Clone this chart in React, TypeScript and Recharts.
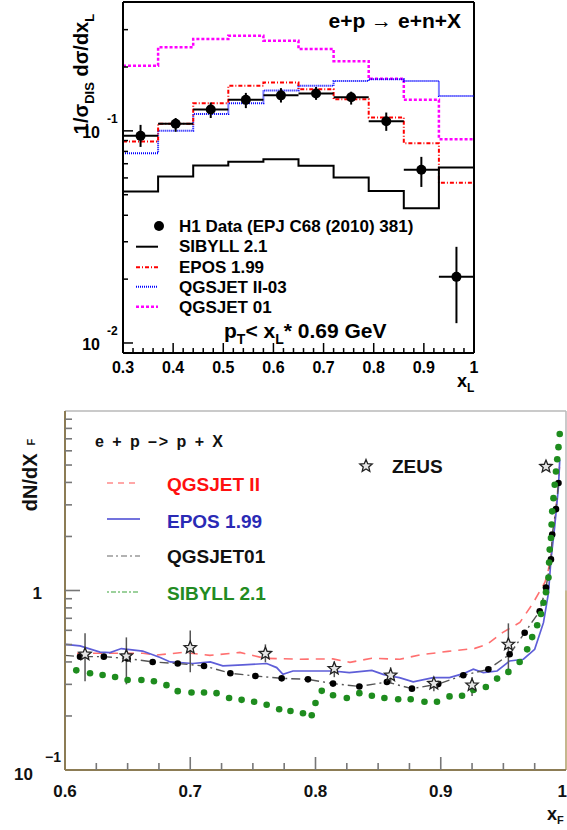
import React from 'react';
import {
  ComposedChart,
  Line,
  Scatter,
  XAxis,
  YAxis,
  ErrorBar,
  ReferenceLine,
  Customized,
} from 'recharts';

const FONT = '"Liberation Sans", Arial, Helvetica, sans-serif';

// ---------------- TOP PANEL DATA (e+p -> e+n+X) ----------------
const xlEdges = [0.3, 0.37, 0.44, 0.51, 0.58, 0.65, 0.72, 0.79, 0.86, 0.93, 1.0];
const sibyll21 = [0.0518, 0.0609, 0.0686, 0.0716, 0.0734, 0.0684, 0.0602, 0.0521, 0.0432, 0.0672];
const epos199 = [0.0891, 0.108, 0.135, 0.163, 0.169, 0.157, 0.141, 0.1156, 0.0875, 0.057];
const qgsjetII03 = [0.0785, 0.1, 0.12, 0.135, 0.155, 0.163, 0.172, 0.175, 0.172, 0.146];
const qgsjet01Top = [0.203, 0.248, 0.271, 0.281, 0.266, 0.243, 0.213, 0.176, 0.14, 0.0914];

const h1X = [0.335, 0.405, 0.475, 0.545, 0.615, 0.685, 0.755, 0.825, 0.895, 0.965];
const h1Val = [0.0947, 0.108, 0.126, 0.14, 0.147, 0.15, 0.144, 0.111, 0.0655, 0.0205];
const h1Lo = [0.084, 0.099, 0.115, 0.128, 0.136, 0.14, 0.133, 0.1, 0.0544, 0.0124];
const h1Hi = [0.1067, 0.115, 0.136, 0.151, 0.159, 0.161, 0.153, 0.122, 0.0754, 0.0284];
const h1HalfBin = 0.035;

const topXMajor = [0.3, 0.4, 0.5, 0.6, 0.7, 0.8, 0.9, 1.0];
const topXLabels = ['0.3', '0.4', '0.5', '0.6', '0.7', '0.8', '0.9', '1'];
const topYMajor = [0.01, 0.1];
const topYExp = ['-2', '-1'];
const topYTicks = [0.01, 0.02, 0.03, 0.04, 0.05, 0.06, 0.07, 0.08, 0.09, 0.1, 0.2, 0.3];
const topXDomain = [0.3, 1.0];
const topYDomain = [0.00897, 0.405];

// ---------------- BOTTOM PANEL DATA (e+p -> p+X) ----------------
const qgsIIX = [0.6096, 0.6623, 0.6734, 0.6942, 0.7157, 0.7397, 0.7596, 0.7876, 0.8139, 0.8275, 0.845, 0.8674, 0.8833, 0.9057, 0.9272, 0.9368, 0.9496, 0.9632, 0.9735, 0.9831, 0.9855, 0.9884, 0.9912, 0.9936, 0.9948];
const qgsIIY = [0.447, 0.447, 0.437, 0.452, 0.435, 0.452, 0.419, 0.414, 0.416, 0.398, 0.419, 0.414, 0.438, 0.458, 0.476, 0.501, 0.584, 0.664, 0.847, 1.108, 1.259, 1.626, 2.48, 3.783, 4.886];

const eposX = [0.6, 0.612, 0.628, 0.636, 0.645, 0.662, 0.676, 0.684, 0.702, 0.716, 0.726, 0.742, 0.761, 0.769, 0.774, 0.782, 0.796, 0.814, 0.827, 0.845, 0.854, 0.859, 0.867, 0.878, 0.894, 0.907, 0.918, 0.926, 0.934, 0.945, 0.955, 0.966, 0.975, 0.982, 0.986, 0.988, 0.991, 0.994, 0.995];
const eposY = [0.501, 0.491, 0.454, 0.451, 0.475, 0.46, 0.423, 0.4, 0.392, 0.4, 0.38, 0.385, 0.392, 0.372, 0.341, 0.356, 0.356, 0.356, 0.349, 0.359, 0.341, 0.334, 0.327, 0.31, 0.327, 0.327, 0.344, 0.364, 0.349, 0.356, 0.405, 0.414, 0.47, 0.662, 0.971, 1.486, 2.28, 3.8, 5.34];

const q01X = [0.6, 0.612, 0.631, 0.65, 0.67, 0.69, 0.711, 0.732, 0.752, 0.773, 0.794, 0.814, 0.835, 0.857, 0.877, 0.898, 0.918, 0.938, 0.955, 0.967, 0.979, 0.984, 0.988, 0.989, 0.992, 0.994];
const q01Y = [0.435, 0.428, 0.428, 0.418, 0.4, 0.392, 0.38, 0.346, 0.334, 0.324, 0.32, 0.303, 0.292, 0.309, 0.284, 0.301, 0.337, 0.364, 0.441, 0.582, 0.767, 1.04, 1.49, 2.05, 2.84, 3.97];

const sibX = [0.609, 0.62, 0.63, 0.64, 0.65, 0.661, 0.671, 0.681, 0.69, 0.701, 0.711, 0.721, 0.731, 0.741, 0.751, 0.761, 0.771, 0.78, 0.79, 0.797, 0.8, 0.805, 0.814, 0.825, 0.835, 0.845, 0.855, 0.866, 0.876, 0.887, 0.897, 0.907, 0.917, 0.926, 0.936, 0.945, 0.954, 0.963, 0.969, 0.973, 0.977, 0.98, 0.982, 0.984, 0.986, 0.9865, 0.987, 0.988, 0.9885, 0.989, 0.99, 0.991, 0.992, 0.993, 0.994, 0.995];
const sibY = [0.359, 0.346, 0.338, 0.33, 0.317, 0.317, 0.312, 0.297, 0.275, 0.27, 0.27, 0.268, 0.252, 0.246, 0.24, 0.231, 0.218, 0.213, 0.207, 0.202, 0.236, 0.276, 0.261, 0.252, 0.268, 0.259, 0.252, 0.248, 0.248, 0.24, 0.24, 0.257, 0.259, 0.279, 0.29, 0.323, 0.352, 0.4, 0.47, 0.55, 0.64, 0.74, 0.855, 0.978, 1.18, 1.43, 1.69, 1.96, 2.33, 2.76, 3.27, 3.88, 4.6, 5.39, 6.29, 7.45];

const zeusX = [0.616, 0.649, 0.7, 0.76, 0.815, 0.86, 0.8945, 0.925, 0.954, 0.984];
const zeusVal = [0.441, 0.431, 0.48, 0.445, 0.367, 0.337, 0.303, 0.297, 0.501, 4.9];
const zeusLo = [0.312, 0.3, 0.35, 0.398, 0.329, 0.304, 0.275, 0.258, 0.355, 4.9];
const zeusHi = [0.577, 0.548, 0.599, 0.501, 0.403, 0.373, 0.329, 0.329, 0.656, 4.9];

const botXMajor = [0.6, 0.7, 0.8, 0.9, 1.0];
const botXLabels = ['0.6', '0.7', '0.8', '0.9', '1'];
const botYTicks = [0.2, 0.3, 0.4, 0.5, 0.6, 0.7, 0.8, 0.9, 1, 2, 3, 4, 5, 6, 7, 8, 9];
const botXDomain = [0.6, 1.0];
const botYDomain = [0.1, 10];

// ---------------- helpers ----------------
const hist = (vals: number[]) => xlEdges.map((x, i) => ({ x, y: vals[Math.min(i, vals.length - 1)] }));
const pts = (xs: number[], ys: number[]) => xs.map((x, i) => ({ x, y: ys[i] }));

const topXTicks: number[] = [];
for (let i = 0; i <= 35; i++) topXTicks.push(Math.round((0.3 + i * 0.02) * 1000) / 1000);
const botXTicks: number[] = [];
for (let i = 0; i <= 16; i++) botXTicks.push(Math.round((0.6 + i * 0.025) * 10000) / 10000);

const h1Data = h1X.map((x, i) => ({
  x,
  y: h1Val[i],
  ex: [h1HalfBin, h1HalfBin],
  ey: [h1Val[i] - h1Lo[i], h1Hi[i] - h1Val[i]],
}));
const zeusData = zeusX.map((x, i) => ({
  x,
  y: zeusVal[i],
  ey: [zeusVal[i] - zeusLo[i], zeusHi[i] - zeusVal[i]],
}));

const starPath = (cx: number, cy: number, R: number, r: number) => {
  let d = '';
  for (let k = 0; k < 10; k++) {
    const rad = k % 2 === 0 ? R : r;
    const a = -Math.PI / 2 + (k * Math.PI) / 5;
    d += (k === 0 ? 'M' : 'L') + (cx + rad * Math.cos(a)).toFixed(2) + ',' + (cy + rad * Math.sin(a)).toFixed(2);
  }
  return d + 'Z';
};

const near = (a: number, b: number) => Math.abs(a - b) < 1e-6 * Math.max(1, Math.abs(b));

// ---------------- ticks ----------------
const TopXTick = (props: any) => {
  const { x, y, payload } = props;
  const v = payload.value;
  const mi = topXMajor.findIndex((m) => near(m, v));
  const major = mi >= 0;
  return (
    <g>
      {v > 0.301 && v < 0.999 && (
        <line x1={x} x2={x} y1={y} y2={y - (major ? 10 : 5)} stroke="#000" strokeWidth={1.5} />
      )}
      {major && (
        <text x={x} y={y + 20} textAnchor="middle" fontSize={16} fontWeight="bold" fontFamily={FONT} fill="#000">
          {topXLabels[mi]}
        </text>
      )}
    </g>
  );
};

const TopYTick = (props: any) => {
  const { x, y, payload } = props;
  const v = payload.value;
  const mi = topYMajor.findIndex((m) => Math.abs(m - v) / m < 1e-6);
  const major = mi >= 0;
  return (
    <g>
      <line x1={x} x2={x + (major ? 10 : 5)} y1={y} y2={y} stroke="#000" strokeWidth={1.5} />
      {major && (
        <text x={x - 23} y={y + 7} textAnchor="end" fontSize={16} fontWeight="bold" fontFamily={FONT} fill="#000">
          10
        </text>
      )}
      {major && (
        <text x={x - 16} y={y - 8} fontSize={12} fontWeight="bold" fontFamily={FONT} fill="#000">
          {topYExp[mi]}
        </text>
      )}
    </g>
  );
};

const BotXTick = (props: any) => {
  const { x, y, payload } = props;
  const v = payload.value;
  const mi = botXMajor.findIndex((m) => near(m, v));
  const major = mi >= 0;
  const last = mi === botXMajor.length - 1;
  return (
    <g>
      {v > 0.601 && v < 0.999 && (
        <line x1={x} x2={x} y1={y} y2={y - (major ? 13 : 7)} stroke="#777" strokeWidth={1.6} />
      )}
      {major && (
        <text
          x={last ? x + 1 : x}
          y={y + 27}
          textAnchor={last ? 'end' : 'middle'}
          fontSize={17}
          fontWeight="bold"
          fontFamily={FONT}
          fill="#111"
        >
          {botXLabels[mi]}
        </text>
      )}
    </g>
  );
};

const BotYTick = (props: any) => {
  const { x, y, payload } = props;
  const v = payload.value;
  const isOne = near(v, 1);
  return (
    <g>
      <line x1={x} x2={x + (isOne ? 15 : 7)} y1={y} y2={y} stroke="#777" strokeWidth={1.6} />
      {isOne && (
        <text x={x - 23} y={y + 8} textAnchor="end" fontSize={17} fontWeight="bold" fontFamily={FONT} fill="#111">
          1
        </text>
      )}
    </g>
  );
};

// ---------------- decorations ----------------
const TopDecor = () => (
  <g fontFamily={FONT} fontWeight="bold" fill="#000">
    <text transform="translate(88,74) rotate(-90)" textAnchor="middle" fontSize={20}>
      1/σ<tspan fontSize={13} dy={6}>DIS</tspan>
      <tspan dy={-6}> dσ/dx</tspan>
      <tspan fontSize={13} dy={6}>L</tspan>
    </text>
    <text x={461} y={28} textAnchor="end" fontSize={21}>
      e+p → e+n+X
    </text>
    <text x={224} y={338} fontSize={21}>
      p<tspan fontSize={14} dy={6}>T</tspan>
      <tspan dy={-6}>&lt; x</tspan>
      <tspan fontSize={14} dy={6}>L</tspan>
      <tspan dy={-6}>* 0.69 GeV</tspan>
    </text>
    <text x={457} y={387} fontSize={18}>
      x<tspan fontSize={12} dy={5}>L</tspan>
    </text>
    {/* legend */}
    <circle cx={159} cy={226} r={5} fill="#000" />
    <line x1={136} x2={158} y1={246.7} y2={246.7} stroke="#000" strokeWidth={2} />
    <line x1={136} x2={158} y1={267.3} y2={267.3} stroke="#ff0000" strokeWidth={2} strokeDasharray="4 2 1 2" />
    <line x1={136} x2={158} y1={286.7} y2={286.7} stroke="#0000ff" strokeWidth={2} strokeDasharray="1 1" />
    <line x1={136} x2={158} y1={306.7} y2={306.7} stroke="#ff00ff" strokeWidth={2.5} strokeDasharray="3 2" />
    <text x={179} y={232} fontSize={17}>H1 Data (EPJ C68 (2010) 381)</text>
    <text x={179} y={252} fontSize={17}>SIBYLL 2.1</text>
    <text x={179} y={273} fontSize={17}>EPOS 1.99</text>
    <text x={179} y={293} fontSize={17}>QGSJET II-03</text>
    <text x={179} y={313} fontSize={17}>QGSJET 01</text>
  </g>
);

const BotDecor = () => (
  <g fontFamily={FONT} fontWeight="bold">
    <text transform="translate(37,75) rotate(-90)" textAnchor="middle" fontSize={20} fill="#111">
      dN/dX<tspan fontSize={11} dx={8} dy={-2}>F</tspan>
    </text>
    <text x={33} y={380} textAnchor="end" fontSize={17} fill="#111">10</text>
    <text x={45} y={362} fontSize={14} fill="#111">−1</text>
    <text x={547} y={420} fontSize={18} fill="#111">
      x<tspan fontSize={11} dy={4}>F</tspan>
    </text>
    <text x={95} y={47} fontSize={16} fill="#111" textLength={128} lengthAdjust="spacing">
      e + p –&gt; p + X
    </text>
    {/* legend */}
    <line x1={107} x2={140} y1={83} y2={83} stroke="#ff8a8a" strokeWidth={1.5} strokeDasharray="6 5" />
    <line x1={107} x2={140} y1={119} y2={119} stroke="#7373dd" strokeWidth={1.8} />
    <line x1={107} x2={140} y1={156} y2={156} stroke="#999" strokeWidth={1.5} strokeDasharray="6 3 2 3" />
    <line x1={107} x2={140} y1={192} y2={192} stroke="#7cc27c" strokeWidth={1.5} strokeDasharray="2 2 5 2" />
    <text x={167} y={91} fontSize={19} fill="#ff1010">QGSJET II</text>
    <text x={167} y={128} fontSize={19} fill="#2a2ab5">EPOS 1.99</text>
    <text x={167} y={163} fontSize={19} fill="#111">QGSJET01</text>
    <text x={167} y={200} fontSize={19} fill="#228b22">SIBYLL 2.1</text>
    <path d={starPath(366, 66, 6.5, 2.9)} fill="#e6e6e6" stroke="#222" strokeWidth={1.3} />
    <text x={392} y={73} fontSize={19} fill="#111">ZEUS</text>
  </g>
);

// ---------------- charts ----------------
const TopChart = () => (
  <ComposedChart width={567} height={400} margin={{ top: 2, right: 93, bottom: 17, left: 63 }}>
    <XAxis
      type="number"
      dataKey="x"
      domain={topXDomain}
      allowDataOverflow
      ticks={topXTicks}
      interval={0}
      height={30}
      tickSize={0}
      tickMargin={0}
      tick={<TopXTick />}
      axisLine={{ stroke: '#000', strokeWidth: 2 }}
    />
    <YAxis
      type="number"
      dataKey="y"
      scale="log"
      domain={topYDomain}
      allowDataOverflow
      ticks={topYTicks}
      interval={0}
      width={60}
      tickSize={0}
      tickMargin={0}
      tick={<TopYTick />}
      axisLine={{ stroke: '#000', strokeWidth: 2 }}
    />
    <ReferenceLine y={topYDomain[1]} stroke="#000" strokeWidth={2} />
    <ReferenceLine x={topXDomain[1]} stroke="#000" strokeWidth={2} />
    <Line data={hist(qgsjet01Top)} dataKey="y" type="stepAfter" stroke="#ff00ff" strokeWidth={2.5} strokeDasharray="3 2" dot={false} isAnimationActive={false} />
    <Line data={hist(qgsjetII03)} dataKey="y" type="stepAfter" stroke="#0000ff" strokeWidth={2} strokeDasharray="1 1" dot={false} isAnimationActive={false} />
    <Line data={hist(epos199)} dataKey="y" type="stepAfter" stroke="#ff0000" strokeWidth={2} strokeDasharray="4 2 1 2" dot={false} isAnimationActive={false} />
    <Line data={hist(sibyll21)} dataKey="y" type="stepAfter" stroke="#000" strokeWidth={2} dot={false} isAnimationActive={false} />
    <Scatter
      data={h1Data}
      dataKey="y"
      isAnimationActive={false}
      shape={(p: any) => <circle cx={p.cx} cy={p.cy} r={5} fill="#000" />}
    >
      <ErrorBar dataKey="ex" direction="x" width={0} stroke="#000" strokeWidth={2} />
      <ErrorBar dataKey="ey" direction="y" width={0} stroke="#000" strokeWidth={2} />
    </Scatter>
    <Customized component={<TopDecor />} />
  </ComposedChart>
);

const BotChart = () => (
  <ComposedChart width={567} height={430} margin={{ top: 11, right: 1, bottom: 30, left: 5 }}>
    <XAxis
      type="number"
      dataKey="x"
      domain={botXDomain}
      allowDataOverflow
      ticks={botXTicks}
      interval={0}
      height={30}
      tickSize={0}
      tickMargin={0}
      tick={<BotXTick />}
      axisLine={{ stroke: '#8c7c55', strokeWidth: 2 }}
    />
    <YAxis
      type="number"
      dataKey="y"
      scale="log"
      domain={botYDomain}
      allowDataOverflow
      ticks={botYTicks}
      interval={0}
      width={60}
      tickSize={0}
      tickMargin={0}
      tick={<BotYTick />}
      axisLine={{ stroke: '#8c7c55', strokeWidth: 2 }}
    />
    <ReferenceLine y={botYDomain[1]} stroke="#b8b8b8" strokeWidth={1.5} />
    <ReferenceLine x={botXDomain[1]} stroke="#b8b8b8" strokeWidth={1.5} />
    <ReferenceLine segment={[{ x: 1, y: 0.1 }, { x: 1, y: 1 }]} stroke="#c2b07a" strokeWidth={1.5} />
    <Line data={pts(qgsIIX, qgsIIY)} dataKey="y" type="linear" stroke="#ff7070" strokeWidth={1.6} strokeDasharray="9 7" dot={false} isAnimationActive={false} />
    <Line data={pts(eposX, eposY)} dataKey="y" type="linear" stroke="#5e5ed8" strokeWidth={1.7} dot={false} isAnimationActive={false} />
    <Line
      data={pts(q01X, q01Y)}
      dataKey="y"
      type="linear"
      stroke="#555"
      strokeWidth={1.4}
      strokeDasharray="9 4 2 4"
      isAnimationActive={false}
      dot={(p: any) =>
        p.index === 0 ? <g key={'d' + p.index} /> : <circle key={'d' + p.index} cx={p.cx} cy={p.cy} r={3.3} fill="#000" stroke="none" />
      }
    />
    <Line
      data={pts(sibX, sibY)}
      dataKey="y"
      type="linear"
      stroke="none"
      isAnimationActive={false}
      dot={(p: any) => <circle key={'s' + p.index} cx={p.cx} cy={p.cy} r={3.3} fill="#1e8c1e" stroke="none" />}
    />
    <Scatter
      data={zeusData}
      dataKey="y"
      isAnimationActive={false}
      shape={(p: any) => <path d={starPath(p.cx, p.cy, 6.5, 2.9)} fill="#e6e6e6" stroke="#222" strokeWidth={1.3} />}
    >
      <ErrorBar dataKey="ey" direction="y" width={0} stroke="#555" strokeWidth={1.5} />
    </Scatter>
    <Customized component={<BotDecor />} />
  </ComposedChart>
);

export default function App() {
  return (
    <div style={{ position: 'absolute', left: 0, top: 0, width: 567, height: 830, background: '#fff', fontFamily: FONT }}>
      <div style={{ position: 'absolute', left: 0, top: 0 }}>
        <TopChart />
      </div>
      <div style={{ position: 'absolute', left: 0, top: 400 }}>
        <BotChart />
      </div>
    </div>
  );
}
